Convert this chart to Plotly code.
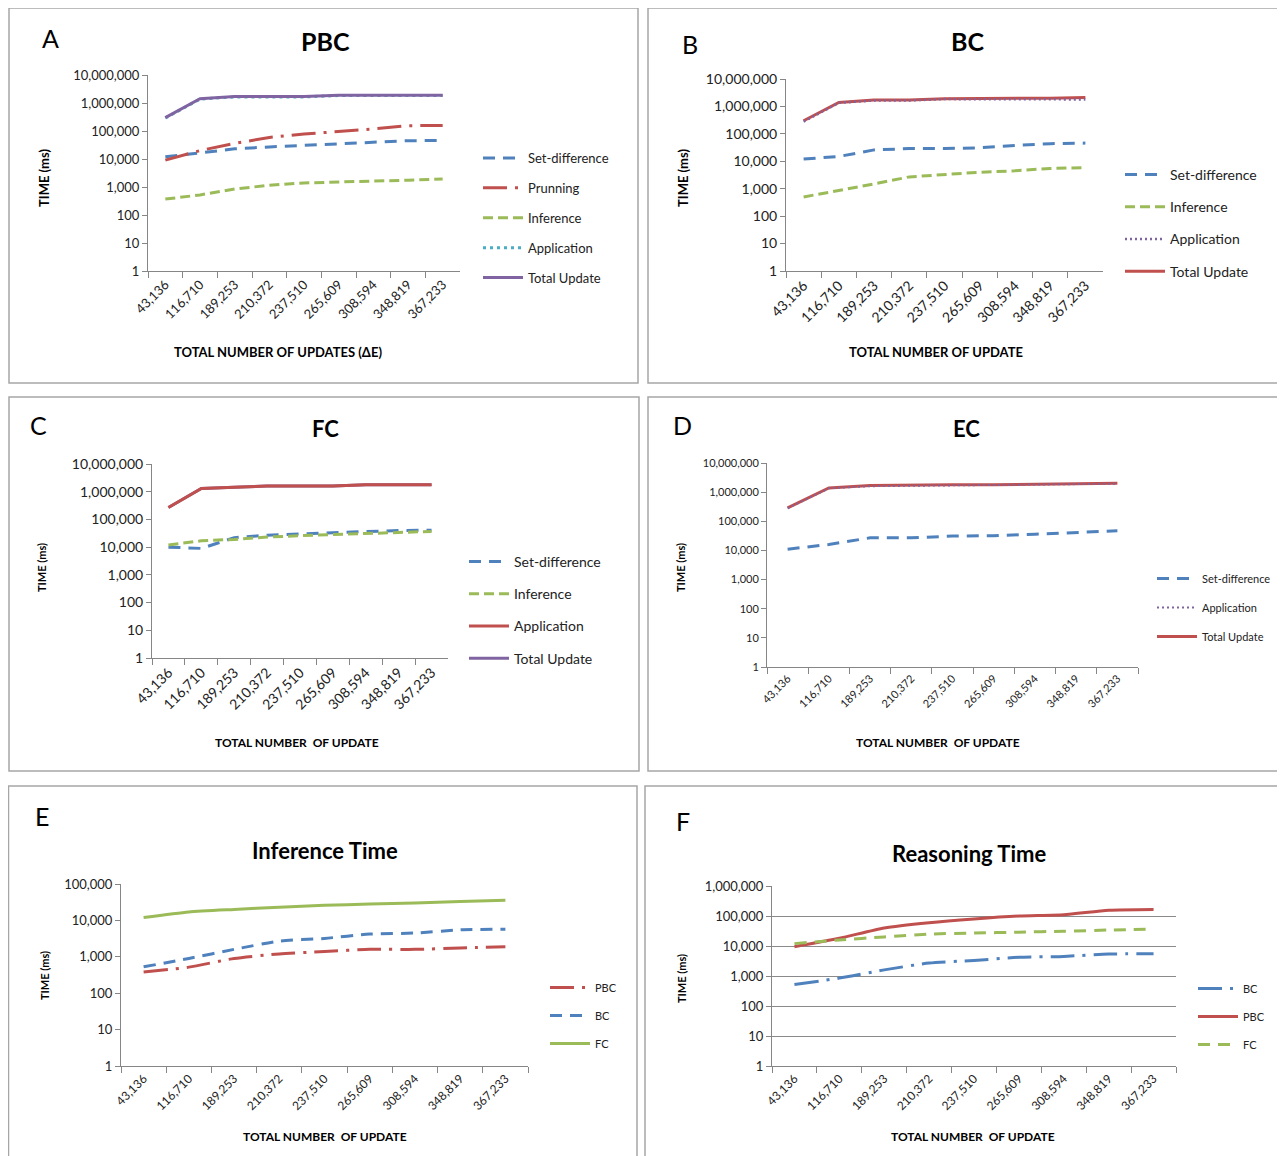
import plotly.graph_objects as go

OFF = 8
W, H = 1285 - OFF, 1156 - OFF

categories = ["43,136", "116,710", "189,253", "210,372", "237,510",
              "265,609", "308,594", "348,819", "367,233"]

# Panel A - PBC
pbc_setdiff = [12000, 17000, 23000, 27000, 31000, 36000, 41000, 45000, 46000]
pbc_prunning = [9100, 20000, 36000, 59000, 78000, 94000, 118000, 155000, 158000]
pbc_inference = [370, 520, 850, 1150, 1400, 1500, 1550, 1750, 1950]
pbc_application = [290000, 1380000, 1650000, 1650000, 1650000, 1850000, 1850000, 1850000, 1850000]
pbc_total = [300000, 1420000, 1700000, 1700000, 1700000, 1880000, 1880000, 1880000, 1880000]

# Panel B - BC
bc_setdiff = [12000, 15000, 26000, 29000, 29000, 31000, 38000, 44000, 46000]
bc_inference = [500, 850, 1500, 2700, 3300, 4000, 4500, 5500, 5800]
bc_application = [280000, 1350000, 1650000, 1650000, 1850000, 1850000, 1850000, 1800000, 1800000]
bc_total = [300000, 1400000, 1700000, 1700000, 1900000, 1900000, 1900000, 2000000, 2100000]

# Panel C - FC
fc_setdiff = [10000, 9000, 22000, 27000, 30000, 33000, 37000, 40000, 41000]
fc_inference = [12000, 17000, 19000, 23000, 26000, 28000, 30000, 33000, 37000]
fc_application = [270000, 1300000, 1450000, 1600000, 1600000, 1600000, 1800000, 1800000, 1800000]
fc_total = [270000, 1300000, 1450000, 1600000, 1600000, 1600000, 1800000, 1800000, 1800000]

# Panel D - EC
ec_setdiff = [11000, 16000, 27000, 27000, 31000, 32000, 36000, 42000, 47000]
ec_application = [280000, 1350000, 1600000, 1650000, 1700000, 1750000, 1800000, 1900000, 1950000]
ec_total = [290000, 1400000, 1700000, 1800000, 1800000, 1800000, 1900000, 2000000, 2000000]

# Panel E - Inference Time
inf_pbc = [380, 520, 900, 1200, 1400, 1600, 1600, 1750, 1900]
inf_bc = [530, 900, 1600, 2700, 3200, 4200, 4500, 5500, 5700]
inf_fc = [12000, 17000, 20000, 23000, 26000, 28000, 30000, 33000, 36000]

# Panel F - Reasoning Time
rsn_bc = [520, 850, 1600, 2700, 3300, 4200, 4500, 5400, 5500]
rsn_pbc = [9500, 18000, 40000, 60000, 80000, 100000, 110000, 155000, 165000]
rsn_fc = [12000, 16000, 20000, 25000, 27000, 29000, 31000, 34000, 37000]

BLUE = "#4F81BD"
RED = "#C0504D"
GREEN = "#9BBB59"
PURPLE = "#8064A2"
CYAN = "#4BACC6"
AXC = "#868686"
FONT = "Lato, 'Open Sans', sans-serif"

DASH = "12px,8px"
SHORTDASH = "10px,5px"
LONGDASHDOT = "24px,8px,3px,8px"
DOT = "3px,4px"
FINEDOT = "2px,3px"


def px(x):
    return (x - OFF) / W


def py(y):
    return 1 - (y - OFF) / H


def fmt(v):
    return f"{v:,}"


fig = go.Figure()

panels = {
    "A": dict(xd=(148, 460), yd=(75, 271), dec=7, tf=13, xf=13, grid=False),
    "B": dict(xd=(786, 1103), yd=(79, 271), dec=7, tf=14, xf=14, grid=False),
    "C": dict(xd=(152, 448), yd=(464, 658), dec=7, tf=14, xf=14, grid=False),
    "D": dict(xd=(767, 1138), yd=(463, 667), dec=7, tf=11, xf=11, grid=False),
    "E": dict(xd=(121, 528), yd=(884, 1066), dec=5, tf=13, xf=12, grid=False),
    "F": dict(xd=(772, 1176), yd=(886, 1066), dec=6, tf=13, xf=12, grid=True),
}

layout_axes = {}
for i, (k, p) in enumerate(panels.items(), start=1):
    sx = "" if i == 1 else str(i)
    tickvals = [10 ** d for d in range(p["dec"] + 1)]
    layout_axes[f"xaxis{sx}"] = dict(
        domain=[px(p["xd"][0]), px(p["xd"][1])],
        anchor=f"y{sx}", type="category", categoryorder="array",
        categoryarray=categories, range=[-0.5, 8.5],
        tickson="boundaries", ticks="outside", ticklen=6, tickcolor=AXC,
        showline=True, linecolor=AXC, linewidth=1, showgrid=False,
        tickangle=-45, tickfont=dict(family=FONT, size=p["xf"], color="#222"),
        automargin=False, fixedrange=True,
    )
    layout_axes[f"yaxis{sx}"] = dict(
        domain=[py(p["yd"][1]), py(p["yd"][0])],
        anchor=f"x{sx}", type="log", range=[0, p["dec"]],
        tickvals=tickvals, ticktext=[fmt(v) for v in tickvals],
        ticks="outside", ticklen=5, tickcolor=AXC,
        showline=True, linecolor=AXC, linewidth=1,
        showgrid=p["grid"], gridcolor="#8a8a8a", gridwidth=1,
        zeroline=False,
        tickfont=dict(family=FONT, size=p["tf"], color="#222"),
        automargin=False, fixedrange=True,
    )


def add(panel_idx, name, ys, color, dash, legend, rank, shape="linear", width=3):
    sx = "" if panel_idx == 1 else str(panel_idx)
    fig.add_trace(go.Scatter(
        x=categories, y=ys, name=name, mode="lines",
        line=dict(color=color, dash=dash, width=width, shape=shape, smoothing=0.6),
        xaxis=f"x{sx}", yaxis=f"y{sx}", legend=legend,
        legendgroup=f"{legend}_{name}", legendrank=rank,
    ))


# A
add(1, "Set-difference", pbc_setdiff, BLUE, DASH, "legend", 1)
add(1, "Prunning", pbc_prunning, RED, LONGDASHDOT, "legend", 2)
add(1, "Inference", pbc_inference, GREEN, SHORTDASH, "legend", 3)
add(1, "Application", pbc_application, CYAN, DOT, "legend", 4)
add(1, "Total Update", pbc_total, PURPLE, "solid", "legend", 5)
# B
add(2, "Set-difference", bc_setdiff, BLUE, DASH, "legend2", 1)
add(2, "Inference", bc_inference, GREEN, SHORTDASH, "legend2", 2)
add(2, "Total Update", bc_total, RED, "solid", "legend2", 4)
add(2, "Application", bc_application, PURPLE, FINEDOT, "legend2", 3, width=2.5)
# C
add(3, "Set-difference", fc_setdiff, BLUE, DASH, "legend3", 1)
add(3, "Inference", fc_inference, GREEN, SHORTDASH, "legend3", 2)
add(3, "Total Update", fc_total, PURPLE, "solid", "legend3", 4)
add(3, "Application", fc_application, RED, "solid", "legend3", 3)
# D
add(4, "Set-difference", ec_setdiff, BLUE, DASH, "legend4", 1)
add(4, "Total Update", ec_total, RED, "solid", "legend4", 3)
add(4, "Application", ec_application, PURPLE, FINEDOT, "legend4", 2, width=2)
# E
add(5, "PBC", inf_pbc, RED, LONGDASHDOT, "legend5", 1, shape="spline")
add(5, "BC", inf_bc, BLUE, DASH, "legend5", 2, shape="spline")
add(5, "FC", inf_fc, GREEN, "solid", "legend5", 3, shape="spline")
# F
add(6, "BC", rsn_bc, BLUE, LONGDASHDOT, "legend6", 1, shape="spline")
add(6, "PBC", rsn_pbc, RED, "solid", "legend6", 2, shape="spline")
add(6, "FC", rsn_fc, GREEN, DASH, "legend6", 3, shape="spline")


def legend(x, ytop, size, gap):
    return dict(x=px(x), y=py(ytop), xanchor="left", yanchor="top",
                font=dict(family=FONT, size=size, color="#222"),
                bgcolor="rgba(0,0,0,0)", traceorder="grouped",
                tracegroupgap=gap, borderwidth=0, itemwidth=40)


legends = dict(
    legend=legend(478, 143, 13, 10),
    legend2=legend(1120, 159, 14, 11),
    legend3=legend(464, 546, 14, 11),
    legend4=legend(1152, 564, 11, 10),
    legend5=legend(545, 973, 11, 9),
    legend6=legend(1193, 974, 11, 9),
)

shapes = []
frames = [(9, 8, 638, 383), (648, 8, 1295, 383), (9, 397, 639, 771),
          (648, 397, 1295, 771), (8.5, 786, 637, 1170), (645, 786, 1295, 1170)]
for x0, y0, x1, y1 in frames:
    shapes.append(dict(type="rect", xref="paper", yref="paper",
                       x0=px(x0), x1=px(x1), y0=py(y1), y1=py(y0),
                       line=dict(color="#a6a6a6", width=1.5)))

ann = []


def text(x, y, s, size, bold=False, angle=0, color="#000"):
    ann.append(dict(x=px(x), y=py(y), xref="paper", yref="paper",
                    text=f"<b>{s}</b>" if bold else s, showarrow=False,
                    textangle=angle, xanchor="center", yanchor="middle",
                    font=dict(family=FONT, size=size, color=color)))


text(50, 38, "A", 25)
text(690, 44, "B", 25)
text(38, 425, "C", 25)
text(683, 425, "D", 25)
text(42, 816, "E", 25)
text(683, 821, "F", 25)
text(325, 41, "PBC", 25, bold=True)
text(967, 41, "BC", 25, bold=True)
text(325, 428, "FC", 22, bold=True)
text(966, 428, "EC", 22, bold=True)
text(325, 850, "Inference Time", 22, bold=True)
text(969, 853, "Reasoning Time", 22, bold=True)
text(278, 352, "TOTAL NUMBER OF UPDATES (ΔE)", 13, bold=True)
text(936, 352, "TOTAL NUMBER OF UPDATE", 13, bold=True)
text(297, 742, "TOTAL NUMBER  OF UPDATE", 12, bold=True)
text(938, 742, "TOTAL NUMBER  OF UPDATE", 12, bold=True)
text(325, 1136, "TOTAL NUMBER  OF UPDATE", 12, bold=True)
text(973, 1136, "TOTAL NUMBER  OF UPDATE", 12, bold=True)
text(44, 178, "TIME (ms)", 13, bold=True, angle=-90)
text(683, 178, "TIME (ms)", 13, bold=True, angle=-90)
text(41, 568, "TIME (ms)", 11, bold=True, angle=-90)
text(680, 568, "TIME (ms)", 11, bold=True, angle=-90)
text(44, 976, "TIME (ms)", 11, bold=True, angle=-90)
text(681, 978, "TIME (ms)", 11, bold=True, angle=-90)

fig.update_layout(
    width=W, height=H, margin=dict(l=0, r=0, t=0, b=0),
    paper_bgcolor="white", plot_bgcolor="white",
    showlegend=True, shapes=shapes, annotations=ann,
    font=dict(family=FONT),
    **layout_axes, **legends,
)

fig.write_html("out.html")
